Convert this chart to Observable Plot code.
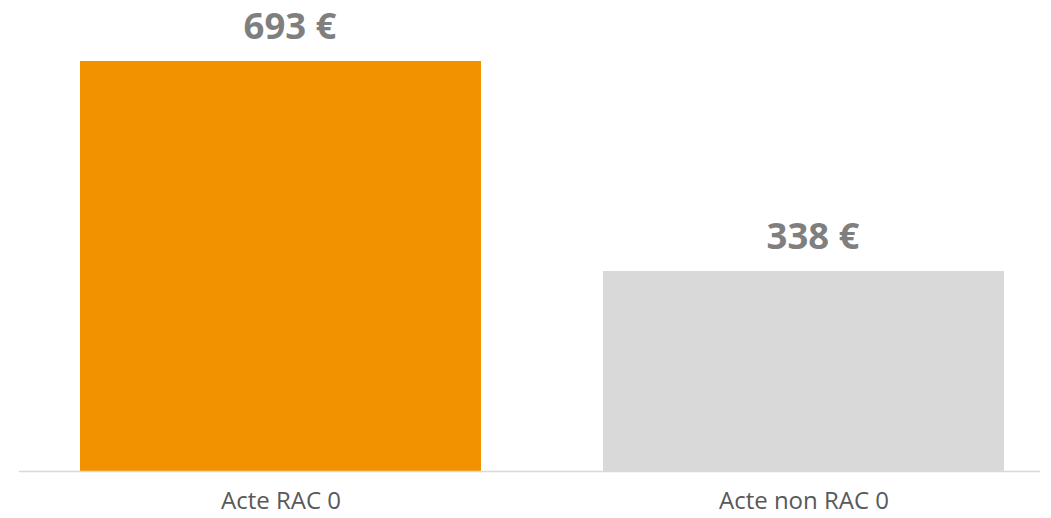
<!DOCTYPE html>
<html>
<head>
<meta charset="utf-8">
<script src="https://cdn.jsdelivr.net/npm/d3@7"></script>
<script src="https://cdn.jsdelivr.net/npm/@observablehq/plot@0.6"></script>
<style>
  html, body { margin: 0; padding: 0; background: #fff; }
  #chart svg { display: block; }
</style>
</head>
<body>
<div id="chart"></div>
<script>
const categories = ["Acte RAC 0", "Acte non RAC 0"];
const values = [693, 338];
const labels = ["693 €", "338 €"];
const colors = ["#F39200", "#D9D9D9"];

const data = categories.map((c, i) => ({category: c, value: values[i], label: labels[i], color: colors[i]}));

const chart = Plot.plot({
  width: 1051,
  height: 518,
  marginLeft: 19,
  marginRight: 11,
  marginTop: 0,
  marginBottom: 47,
  style: {fontFamily: "'Open Sans', sans-serif", background: "#fff"},
  x: {domain: categories, range: [19, 1065], paddingInner: 0.233, paddingOuter: 0.1165, label: null},
  y: {domain: [0, 693], range: [471, 61], axis: null},
  marks: [
    Plot.barY(data, {x: "category", y: "value", fill: d => d.color}),
    Plot.ruleY([0], {stroke: "#D9D9D9", strokeWidth: 1.5}),
    Plot.text(data, {x: "category", y: "value", text: "label", lineAnchor: "bottom", dy: -23, dx: 9, fontSize: 36.5, fontWeight: "bold", fill: "#7F7F7F"}),
    Plot.axisX({tickSize: 0, tickPadding: 20, fontSize: 24, color: "#595959", label: null})
  ]
});
document.getElementById("chart").append(chart);
</script>
</body>
</html>
